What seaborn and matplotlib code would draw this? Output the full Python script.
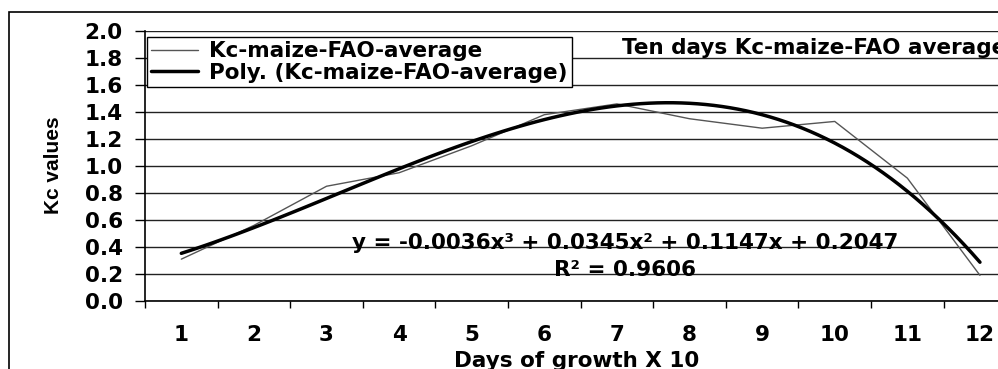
import numpy as np
import pandas as pd
import matplotlib
matplotlib.use("Agg")
import matplotlib.pyplot as plt
from matplotlib.patches import Rectangle
from matplotlib.ticker import FixedLocator, NullFormatter
import seaborn as sns

# --- Data ---
days = [1, 2, 3, 4, 5, 6, 7, 8, 9, 10, 11, 12]
kc_values = [0.31, 0.56, 0.85, 0.95, 1.15, 1.38, 1.46, 1.35, 1.28, 1.33, 0.91, 0.19]
y_ticks = [0.0, 0.2, 0.4, 0.6, 0.8, 1.0, 1.2, 1.4, 1.6, 1.8, 2.0]

series_name = "Kc-maize-FAO-average"
trend_name = "Poly. (Kc-maize-FAO-average)"
title_text = "Ten days Kc-maize-FAO average"
equation_text = "y = -0.0036x³ + 0.0345x² + 0.1147x + 0.2047"
r2_text = "R² = 0.9606"

df = pd.DataFrame({"day": days, "kc": kc_values})

sns.set_style("white")
plt.rcParams["font.family"] = ["DejaVu Sans"]
plt.rcParams["font.weight"] = "bold"
for key in ["text.color", "axes.labelcolor", "xtick.color", "ytick.color"]:
    plt.rcParams[key] = "black"
fs = 15.5

fig = plt.figure(figsize=(9.98, 3.69), dpi=100)
ax = fig.add_axes([0.1453, 0.1843, 0.873, 0.7317])

# --- Series and cubic trendline ---
sns.lineplot(data=df, x="day", y="kc", ax=ax, color="#555555", lw=1.0,
             label=series_name, zorder=3)
sns.regplot(data=df, x="day", y="kc", ax=ax, order=3, ci=None, scatter=False,
            truncate=True, color="black", label=trend_name,
            line_kws={"lw": 2.5, "zorder": 4})

# --- Axes styling ---
ax.set_xlim(0.5, 12.5)
ax.set_ylim(0, 2.0)
ax.set_yticks(y_ticks)
ax.set_yticklabels([f"{v:.1f}" for v in y_ticks], fontsize=fs, fontweight="bold")
ax.yaxis.grid(True, color="#222222", lw=1.0)
ax.xaxis.grid(False)

ax.xaxis.set_major_locator(FixedLocator(np.arange(0.5, 13, 1.0)))
ax.xaxis.set_major_formatter(NullFormatter())
ax.xaxis.set_minor_locator(FixedLocator(days))
ax.set_xticklabels([str(d) for d in days], minor=True, fontsize=fs, fontweight="bold")
ax.tick_params(axis="x", which="major", direction="out", length=5, width=1,
               color="black", bottom=True)
ax.tick_params(axis="x", which="minor", length=0, pad=17, bottom=True)
ax.tick_params(axis="y", direction="out", length=7, width=1, color="black",
               pad=9, left=True)

for side in ["top", "right"]:
    ax.spines[side].set_visible(False)
for side in ["left", "bottom"]:
    ax.spines[side].set_color("black")
    ax.spines[side].set_linewidth(1.2)

ax.set_xlabel("Days of growth X 10", fontsize=fs, fontweight="bold")
ax.xaxis.set_label_coords(0.495, -0.185)
ax.set_ylabel("Kc values", fontsize=15, fontweight="bold",
              family=["Liberation Sans Narrow", "Liberation Sans"])
ax.yaxis.set_label_coords(-0.094, 0.504)

# --- Legend ---
leg = ax.legend(loc="upper left", bbox_to_anchor=(0.002, 0.978), borderaxespad=0,
                frameon=True, fancybox=False, framealpha=1, edgecolor="black",
                prop={"size": fs, "weight": "bold"}, handlelength=2.2,
                handletextpad=0.5, borderpad=0.2, labelspacing=0.08)
leg.get_frame().set_linewidth(1.0)

# --- Annotations ---
ax.text(7.07, 1.874, title_text, ha="left", va="center", fontsize=fs,
        fontweight="bold")
ax.text(7.11, 0.43, equation_text, ha="center", va="center", fontsize=fs,
        fontweight="bold")
ax.text(7.11, 0.23, r2_text, ha="center", va="center", fontsize=fs,
        fontweight="bold")

# outer chart frame (runs off the right and bottom edge)
fig.add_artist(Rectangle((0.009, -0.1), 1.2, 1.067, transform=fig.transFigure,
                         fill=False, edgecolor="black", lw=1.2, clip_on=False))

fig.savefig("out.png", dpi=100)
